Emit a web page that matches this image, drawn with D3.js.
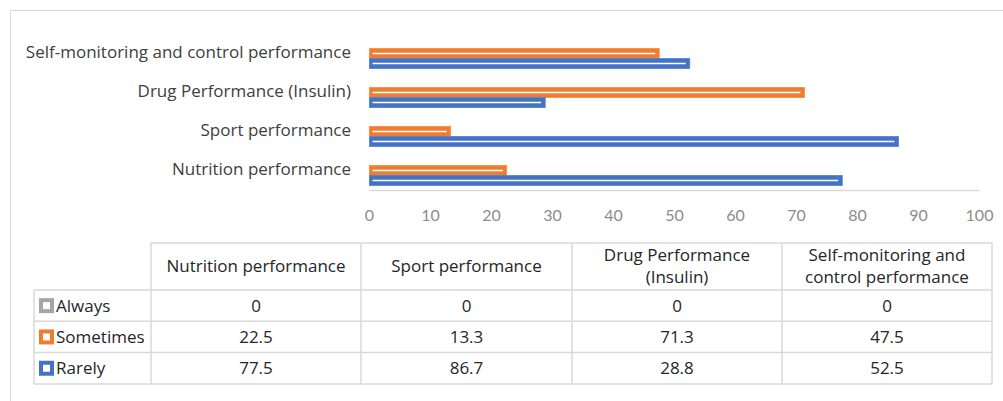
<!DOCTYPE html>
<html>
<head>
<meta charset="utf-8">
<script src="https://cdn.jsdelivr.net/npm/d3@7"></script>
<style>
body { margin: 0; background: #fff; }
text { font-family: "Open Sans", Lato, sans-serif; }
</style>
</head>
<body>
<div id="chart"></div>
<script>
// data
var categories = ["Nutrition performance", "Sport performance", "Drug Performance (Insulin)", "Self-monitoring and control performance"];
var seriesNames = ["Always", "Sometimes", "Rarely"];
var always = [0, 0, 0, 0];
var sometimes = [22.5, 13.3, 71.3, 47.5];
var rarely = [77.5, 86.7, 28.8, 52.5];
var xTicks = [0, 10, 20, 30, 40, 50, 60, 70, 80, 90, 100];
var tableHeads = [["Nutrition performance"], ["Sport performance"], ["Drug Performance", "(Insulin)"], ["Self-monitoring and", "control performance"]];
var colors = ["#a5a5a5", "#ed7d31", "#4472c4"];

var seriesValues = [always, sometimes, rarely];

var W = 1003, H = 401;
var gridCol = "#d9d9d9";
var fontSize = "17px";

var svg = d3.select("#chart").append("svg")
  .attr("width", W).attr("height", H);

// chart area border (only top/left visible)
svg.append("path")
  .attr("d", "M10.5," + H + "V10.5H" + W)
  .style("fill", "none").style("stroke", gridCol).style("stroke-width", 1);

var x = d3.scaleLinear().domain([0, 100]).range([369.5, 979.5]);

var y0 = d3.scaleBand()
  .domain(categories.slice().reverse())
  .range([34, 190])
  .paddingInner(9 / 39)
  .paddingOuter(4.5 / 39);

var y1 = d3.scaleBand()
  .domain(seriesNames)
  .range([0, y0.bandwidth()]);

// bars
seriesNames.forEach(function(s, si) {
  var g = svg.append("g").attr("class", "series");
  categories.forEach(function(c, ci) {
    var v = seriesValues[si][ci];
    if (v <= 0) return;
    var by = y0(c) + y1(s);
    var bw = x(v) - x(0);
    g.append("rect")
      .attr("x", x(0))
      .attr("y", by)
      .attr("width", bw)
      .attr("height", y1.bandwidth())
      .style("fill", colors[si])
      .style("stroke", d3.color(colors[si]).brighter(0.3))
      .style("stroke-width", 0.8);
    g.append("line")
      .attr("x1", x(0) + 3)
      .attr("x2", x(v) - 4)
      .attr("y1", by + y1.bandwidth() / 2)
      .attr("y2", by + y1.bandwidth() / 2)
      .style("stroke", "#fff")
      .style("stroke-width", 1.3);
  });
});

// axis line
svg.append("line")
  .attr("x1", x(0)).attr("x2", x(100))
  .attr("y1", 190.5).attr("y2", 190.5)
  .style("stroke", gridCol).style("stroke-width", 1.5);

// x tick labels
svg.append("g").selectAll("text")
  .data(xTicks)
  .join("text")
  .attr("x", function(d) { return x(d); })
  .attr("y", 221)
  .attr("text-anchor", "middle")
  .style("font-family", "Lato, sans-serif")
  .style("font-size", "16px")
  .style("fill", "#8c8c8c")
  .text(function(d) { return d; });

// category labels
svg.append("g").selectAll("text")
  .data(categories)
  .join("text")
  .attr("x", 351)
  .attr("y", function(d) { return y0(d) + y0.bandwidth() / 2 - 1.5; })
  .attr("dy", "0.35em")
  .attr("text-anchor", "end")
  .style("font-size", fontSize)
  .style("fill", "#404040")
  .text(function(d) { return d; });

// data table
var colX = [34, 151, 361, 572, 782, 992];
var headTop = 243, headBottom = 290;
var rowH = 31.3;
var tbl = svg.append("g").attr("class", "table");

// header row borders (no cell over the legend column)
tbl.append("path")
  .attr("d", "M" + colX[1] + "," + headBottom + "V" + headTop + "H" + colX[5] + "V" + headBottom)
  .style("fill", "none").style("stroke", gridCol).style("stroke-width", 1.5);
colX.slice(2, 5).forEach(function(cx) {
  tbl.append("line").attr("x1", cx).attr("x2", cx).attr("y1", headTop).attr("y2", headBottom)
    .style("stroke", gridCol).style("stroke-width", 1.5);
});

// body grid
var bodyBottom = headBottom + rowH * seriesNames.length;
colX.forEach(function(cx) {
  tbl.append("line").attr("x1", cx).attr("x2", cx).attr("y1", headBottom).attr("y2", bodyBottom)
    .style("stroke", gridCol).style("stroke-width", 1.5);
});
d3.range(seriesNames.length + 1).forEach(function(i) {
  tbl.append("line").attr("x1", colX[0]).attr("x2", colX[5])
    .attr("y1", headBottom + i * rowH).attr("y2", headBottom + i * rowH)
    .style("stroke", gridCol).style("stroke-width", 1.5);
});

// header text
tableHeads.forEach(function(lines, i) {
  var cx = (colX[i + 1] + colX[i + 2]) / 2;
  var cy = (headTop + headBottom) / 2;
  var t = tbl.append("text")
    .attr("text-anchor", "middle")
    .style("font-size", fontSize)
    .style("fill", "#262626");
  lines.forEach(function(l, li) {
    t.append("tspan")
      .attr("x", cx)
      .attr("y", cy + (li - (lines.length - 1) / 2) * 22)
      .attr("dy", "0.35em")
      .text(l);
  });
});

// rows: legend key + values
seriesNames.forEach(function(s, si) {
  var ry = headBottom + si * rowH;
  var cy = ry + rowH / 2;
  tbl.append("rect")
    .attr("x", 41).attr("y", cy - 5.5)
    .attr("width", 11).attr("height", 11)
    .style("fill", "#fff")
    .style("stroke", colors[si])
    .style("stroke-width", 4);
  tbl.append("text")
    .attr("x", 56).attr("y", cy).attr("dy", "0.35em")
    .style("font-size", fontSize).style("fill", "#262626")
    .text(s);
  seriesValues[si].forEach(function(v, ci) {
    tbl.append("text")
      .attr("x", (colX[ci + 1] + colX[ci + 2]) / 2)
      .attr("y", cy).attr("dy", "0.35em")
      .attr("text-anchor", "middle")
      .style("font-size", fontSize).style("fill", "#262626")
      .text(v);
  });
});
</script>
</body>
</html>
